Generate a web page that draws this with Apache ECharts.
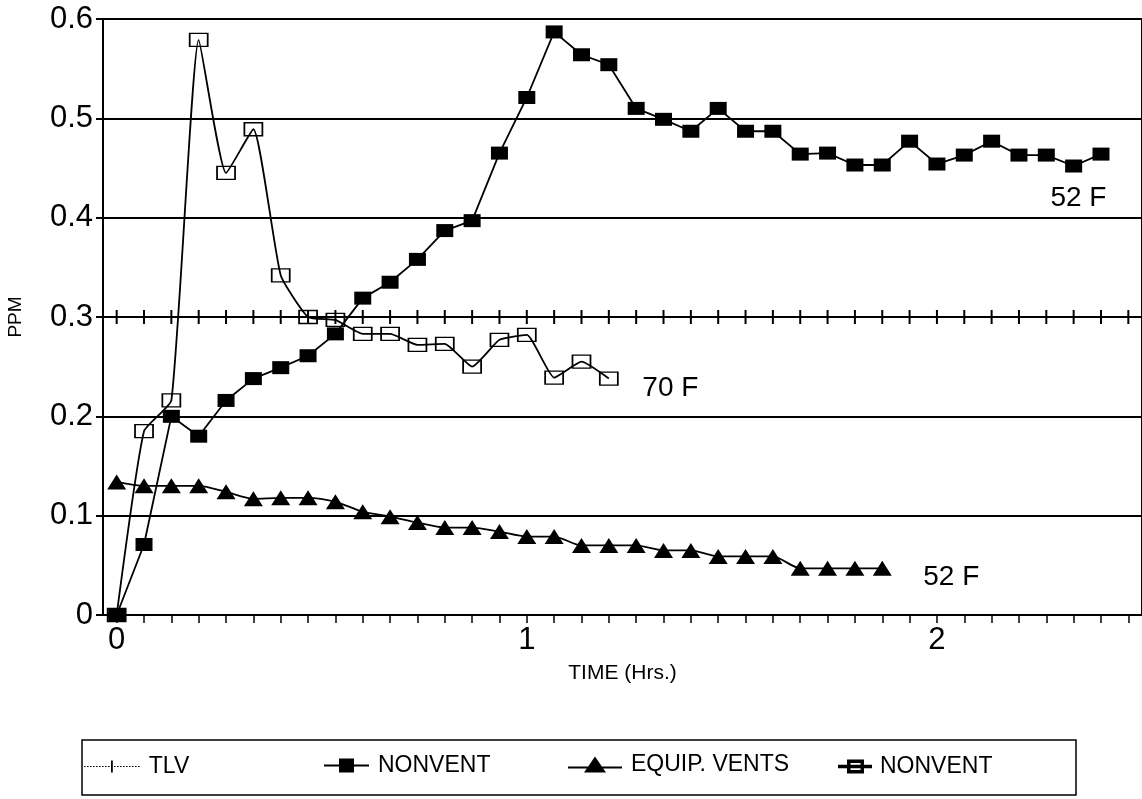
<!DOCTYPE html>
<html>
<head>
<meta charset="utf-8">
<script src="https://cdn.jsdelivr.net/npm/echarts@6/dist/echarts.min.js"></script>
<style>
html,body{margin:0;padding:0;background:#fff;}
#chart{width:1142px;height:799px;}
</style>
</head>
<body>
<div id="chart"></div>
<script>
// Sampling times (minutes) – every 4 minutes
const sampleMinutes = [0,4,8,12,16,20,24,28,32,36,40,44,48,52,56,60,64,68,72,76,80,84,88,92,96,100,104,108,112,116,120,124,128,132,136,140,144,148];

// TLV threshold (PPM)
const tlvPpm = [0.3,0.3,0.3,0.3,0.3,0.3,0.3,0.3,0.3,0.3,0.3,0.3,0.3,0.3,0.3,0.3,0.3,0.3,0.3,0.3,0.3,0.3,0.3,0.3,0.3,0.3,0.3,0.3,0.3,0.3,0.3,0.3,0.3,0.3,0.3,0.3,0.3,0.3];

// NONVENT at 52 F (filled squares)
const nonvent52 = [0,0.071,0.2,0.18,0.216,0.238,0.249,0.261,0.283,0.319,0.335,0.358,0.387,0.397,0.465,0.521,0.587,0.564,0.554,0.51,0.499,0.487,0.51,0.487,0.487,0.464,0.465,0.453,0.453,0.477,0.454,0.463,0.477,0.463,0.463,0.452,0.464];

// EQUIP. VENTS at 52 F (triangles)
const equipVents52 = [0.134,0.13,0.13,0.13,0.124,0.117,0.118,0.118,0.114,0.104,0.099,0.093,0.088,0.088,0.084,0.079,0.079,0.07,0.07,0.07,0.065,0.065,0.059,0.059,0.059,0.047,0.047,0.047,0.047];

// NONVENT at 70 F (hollow squares)
const nonvent70 = [0,0.185,0.216,0.579,0.445,0.489,0.342,0.3,0.297,0.283,0.283,0.272,0.273,0.25,0.277,0.282,0.239,0.255,0.238];

// Axis tick labels
const xTickLabels = [0,1,2];
const yTickLabels = [0,0.1,0.2,0.3,0.4,0.5,0.6];

// Annotations (hours, ppm)
const annotText = ['52 F','70 F','52 F'];
const annotHrs = [2.345,1.35,2.035];
const annotPpm = [0.42,0.228,0.038];

const toPairs = vals => vals.map((v,i)=>[sampleMinutes[i]/60, v]);
const xTicks = sampleMinutes.map(m=>m/60);

const FONT = '"Liberation Sans", Arial, Helvetica, sans-serif';

// legend icons (line + marker)
let dots = '';
for (let x = 0; x < 56; x += 3) dots += 'M' + x + ',5.5h1.6v1H' + x + 'z ';
const ICON_TLV = 'path://' + dots + 'M27,0h1.8v12H27z';
const ICON_FILLED = 'path://M0,6h45v2H0z M15,0h15v14H15z';
const ICON_TRI = 'path://M0,10h54v2H0z M16,16L27,0L38,16z';
const ICON_HOLLOW = 'path://M0,5.2h32v1.6H0z M9,0h15v12H9z M10.5,1.5v9h12v-9z';

const chart = echarts.init(document.getElementById('chart'), null, {renderer:'canvas'});

function legendItem(name, icon, left, width, height, top){
  return {
    data:[{name:name, icon:icon}],
    left:left, top:top,
    orient:'horizontal',
    padding:0,
    itemWidth:width, itemHeight:height,
    itemGap:0,
    selectedMode:false,
    formatter: n => n.replace(/ \(.*\)$/,''),
    textStyle:{fontFamily:FONT,fontSize:23,color:'#000',padding:[0,0,0,4]}
  };
}

const option = {
  backgroundColor:'#fff',
  animation:false,
  grid:{left:103,right:0,top:19,bottom:184,outerBoundsMode:'none',containLabel:false,
        show:true,borderColor:'#000',borderWidth:2,backgroundColor:'transparent'},
  xAxis:{
    type:'value', min:-1/30, max:2.5,
    name:'TIME (Hrs.)', nameLocation:'middle', nameGap:48,
    nameTextStyle:{fontFamily:FONT,fontSize:21,color:'#000'},
    axisLine:{show:true,onZero:false,lineStyle:{color:'#000',width:2}},
    axisTick:{show:true,customValues:xTicks,length:8,inside:false,lineStyle:{color:'#000',width:1.5}},
    axisLabel:{show:true,customValues:xTickLabels,margin:10,fontFamily:FONT,fontSize:31,color:'#000'},
    splitLine:{show:false}
  },
  yAxis:{
    type:'value', min:0, max:0.6, interval:0.1,
    name:'PPM', nameLocation:'middle', nameGap:78, nameRotate:90,
    nameTextStyle:{fontFamily:FONT,fontSize:19,color:'#000'},
    axisLine:{show:true,onZero:false,lineStyle:{color:'#000',width:2}},
    axisTick:{show:true,length:7,lineStyle:{color:'#000',width:2}},
    axisLabel:{margin:10,fontFamily:FONT,fontSize:31,color:'#000',
      customValues:yTickLabels, formatter:v=>String(+v.toFixed(1))},
    splitLine:{show:true,lineStyle:{color:'#000',width:2}}
  },
  legend:[
    legendItem('TLV',ICON_TLV,84,56,12,755),
    legendItem('NONVENT (52 F)',ICON_FILLED,324,45,14,754),
    legendItem('EQUIP. VENTS',ICON_TRI,568,54,16,753),
    legendItem('NONVENT (70 F)',ICON_HOLLOW,838,32,12,755)
  ],
  series:[
    {
      name:'TLV', type:'line', data:toPairs(tlvPpm),
      symbol:'rect', symbolSize:[2,14], showAllSymbol:true,
      itemStyle:{color:'#000'}, lineStyle:{color:'#000',width:1.5}, z:3
    },
    {
      name:'NONVENT (52 F)', type:'line', data:toPairs(nonvent52),
      symbol:'rect', symbolSize:[17,13], showAllSymbol:true,
      itemStyle:{color:'#000'}, lineStyle:{color:'#000',width:1.8}, z:4
    },
    {
      name:'EQUIP. VENTS', type:'line', data:toPairs(equipVents52), smooth:0.25,
      symbol:'triangle', symbolSize:[19,15], showAllSymbol:true,
      itemStyle:{color:'#000'}, lineStyle:{color:'#000',width:1.8}, z:4
    },
    {
      name:'NONVENT (70 F)', type:'line', data:toPairs(nonvent70), smooth:0.15,
      symbol:'rect', symbolSize:[18,13], showAllSymbol:true,
      itemStyle:{color:'rgba(0,0,0,0)',borderColor:'#000',borderWidth:1.5},
      lineStyle:{color:'#000',width:1.8}, z:5
    }
  ]
};
chart.setOption(option);

// Legend frame and data-anchored annotations
const graphics = [{
  type:'rect', id:'legendBox', shape:{x:82,y:740,width:994,height:55},
  style:{fill:'none',stroke:'#000',lineWidth:1.5}, silent:true
}];
annotText.forEach((t,i)=>{
  const p = chart.convertToPixel({gridIndex:0},[annotHrs[i],annotPpm[i]]);
  graphics.push({
    type:'text', id:'annot'+i, x:p[0], y:p[1], silent:true,
    style:{text:t, fill:'#000', font:'28px '+FONT, align:'center', verticalAlign:'middle'}
  });
});
chart.setOption({graphic:graphics});
</script>
</body>
</html>
